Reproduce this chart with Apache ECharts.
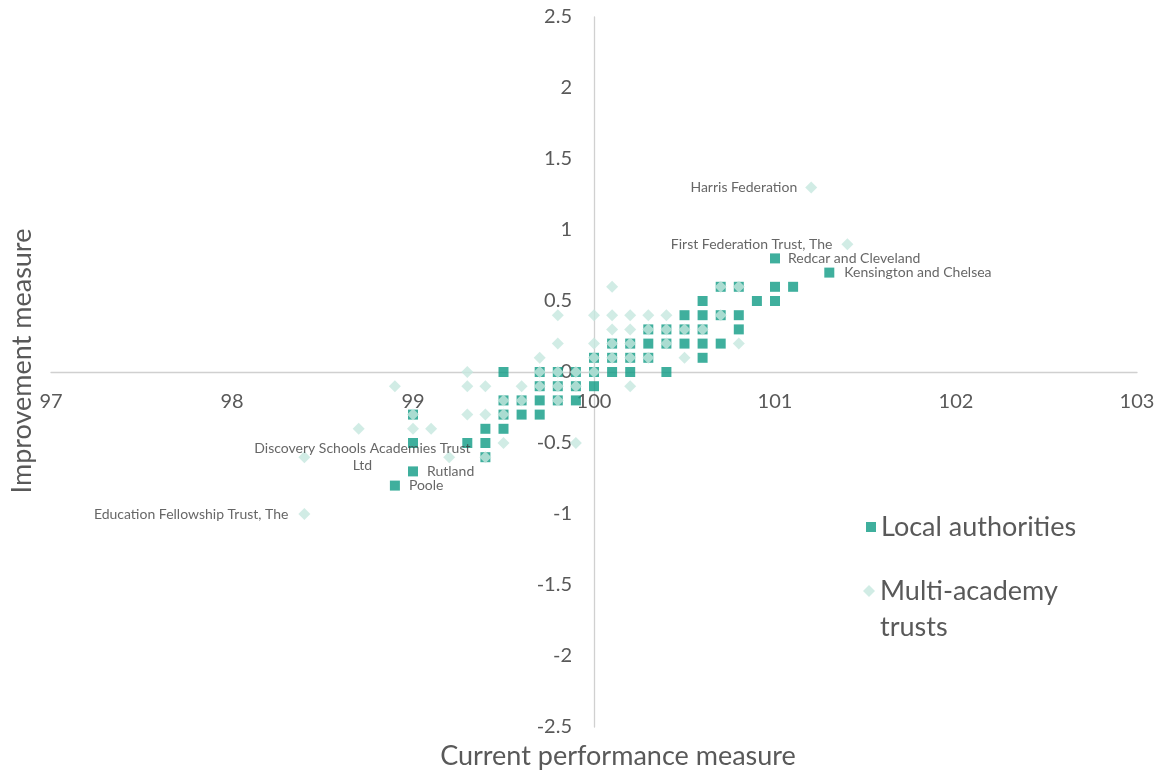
<!DOCTYPE html>
<html>
<head>
<meta charset="utf-8">
<script src="https://cdn.jsdelivr.net/npm/echarts@6/dist/echarts.min.js"></script>
<style>
html,body{margin:0;padding:0;background:#fff;}
#chart{width:1161px;height:774px;}
</style>
</head>
<body>
<div id="chart"></div>
<script>
// ---- data ----
const seriesNames = ['Local authorities', 'Multi-academy trusts'];
const xTitle = 'Current performance measure';
const yTitle = 'Improvement measure';

// Local authorities: [current performance, improvement]
const laPoints = [
  [100.7,0.6],[100.8,0.6],[101.0,0.6],[101.1,0.6],
  [100.6,0.5],[100.9,0.5],[101.0,0.5],
  [100.5,0.4],[100.6,0.4],[100.7,0.4],[100.8,0.4],
  [100.3,0.3],[100.4,0.3],[100.5,0.3],[100.6,0.3],[100.8,0.3],
  [100.1,0.2],[100.2,0.2],[100.3,0.2],[100.4,0.2],[100.5,0.2],[100.6,0.2],[100.7,0.2],
  [100.0,0.1],[100.1,0.1],[100.2,0.1],[100.3,0.1],[100.6,0.1],
  [99.5,0],[99.7,0],[99.8,0],[99.9,0],[100.0,0],[100.1,0],[100.2,0],[100.4,0],
  [99.7,-0.1],[99.8,-0.1],[99.9,-0.1],[100.0,-0.1],
  [99.5,-0.2],[99.6,-0.2],[99.7,-0.2],[99.8,-0.2],[99.9,-0.2],
  [99.0,-0.3],[99.5,-0.3],[99.6,-0.3],[99.7,-0.3],
  [99.4,-0.4],[99.5,-0.4],
  [99.0,-0.5],[99.3,-0.5],[99.4,-0.5],
  [99.4,-0.6]
];
const laNamed = [
  ['Redcar and Cleveland', 101.0, 0.8],
  ['Kensington and Chelsea', 101.3, 0.7],
  ['Rutland', 99.0, -0.7],
  ['Poole', 98.9, -0.8]
];

// Multi-academy trusts
const matPoints = [
  [100.1,0.6],[100.7,0.6],[100.8,0.6],
  [99.8,0.4],[100.0,0.4],[100.1,0.4],[100.2,0.4],[100.3,0.4],[100.4,0.4],[100.7,0.4],
  [100.1,0.3],[100.2,0.3],[100.3,0.3],[100.4,0.3],[100.5,0.3],[100.6,0.3],
  [99.8,0.2],[100.0,0.2],[100.1,0.2],[100.2,0.2],[100.4,0.2],[100.8,0.2],
  [99.7,0.1],[100.0,0.1],[100.1,0.1],[100.2,0.1],[100.3,0.1],[100.5,0.1],
  [99.3,0],[99.7,0],[99.8,0],[99.9,0],[100.0,0],
  [98.9,-0.1],[99.3,-0.1],[99.4,-0.1],[99.6,-0.1],[99.7,-0.1],[99.8,-0.1],[99.9,-0.1],[100.2,-0.1],
  [99.5,-0.2],[99.6,-0.2],[99.8,-0.2],
  [99.0,-0.3],[99.3,-0.3],[99.4,-0.3],[99.5,-0.3],
  [98.7,-0.4],[99.0,-0.4],[99.1,-0.4],
  [99.5,-0.5],[99.9,-0.5],
  [99.2,-0.6],[99.4,-0.6]
];
const matNamed = [
  ['Harris Federation', 101.2, 1.3],
  ['First Federation Trust, The', 101.4, 0.9],
  ['Discovery Schools Academies Trust Ltd', 98.4, -0.6],
  ['Education Fellowship Trust, The', 98.4, -1.0]
];

const xTicks = {min: 97, max: 103, step: 1};
const yTicks = {min: -2.5, max: 2.5, step: 0.5};

// ---- styling / layout ----
const FONT = 'Lato, "Open Sans", sans-serif';
const LA_COLOR = '#0F9B85';
const MAT_COLOR = '#C5E7DF';
const AXIS_COLOR = '#D0D0D0';
const TEXT_COLOR = '#595959';
const gridLeft = 51, gridRight = 24, gridTop = 17, gridBottom = 47;
const gridW = 1161 - gridLeft - gridRight;
const gridH = 774 - gridTop - gridBottom;

const labelStyles = {
  'Redcar and Cleveland': {position: 'right', distance: 8},
  'Kensington and Chelsea': {position: 'right', distance: 10},
  'Rutland': {position: 'right', distance: 9},
  'Poole': {position: 'right', distance: 9},
  'Harris Federation': {position: 'left', distance: 8},
  'First Federation Trust, The': {position: 'left', distance: 9},
  'Education Fellowship Trust, The': {position: 'left', distance: 10},
  'Discovery Schools Academies Trust Ltd': {position: 'inside', offset: [58, 0], align: 'center', lineHeight: 17,
      formatter: (p) => p.name.replace(' Ltd', '\nLtd')}
};

function buildData(points, named) {
  const arr = points.map(p => ({value: p}));
  named.forEach(([name, x, y]) => {
    const ls = labelStyles[name] || {};
    arr.push({
      name: name,
      value: [x, y],
      label: Object.assign({
        show: true,
        formatter: '{b}',
        fontFamily: FONT,
        fontSize: 14,
        color: '#404040'
      }, ls)
    });
  });
  return arr;
}

const chart = echarts.init(document.getElementById('chart'), null, {renderer: 'canvas'});
const axisLabelBase = {color: TEXT_COLOR, fontFamily: FONT, fontSize: 20};

chart.setOption({
  backgroundColor: '#ffffff',
  animation: false,
  grid: {left: gridLeft, right: gridRight, top: gridTop, bottom: gridBottom, containLabel: false},
  xAxis: {
    type: 'value', min: xTicks.min, max: xTicks.max, interval: xTicks.step,
    position: 'bottom',
    offset: -gridH * (0 - yTicks.min) / (yTicks.max - yTicks.min),
    axisLine: {show: true, onZero: false, lineStyle: {color: AXIS_COLOR, width: 1.3}},
    axisTick: {show: false},
    splitLine: {show: false},
    axisLabel: Object.assign({margin: 20, showMinLabel: true, showMaxLabel: true}, axisLabelBase)
  },
  yAxis: {
    type: 'value', min: yTicks.min, max: yTicks.max, interval: yTicks.step,
    position: 'left',
    offset: -gridW * (100 - xTicks.min) / (xTicks.max - xTicks.min),
    axisLine: {show: true, onZero: false, lineStyle: {color: AXIS_COLOR, width: 1.3}},
    axisTick: {show: false},
    splitLine: {show: false},
    axisLabel: Object.assign({margin: 22, showMinLabel: true, showMaxLabel: true}, axisLabelBase)
  },
  legend: [
    {
      data: [{name: seriesNames[0], icon: 'rect'}],
      left: 861, top: 504, orient: 'vertical',
      itemWidth: 10, itemHeight: 10,
      textStyle: {fontFamily: FONT, fontSize: 27, color: TEXT_COLOR, lineHeight: 36}
    },
    {
      data: [{name: seriesNames[1], icon: 'diamond'}],
      left: 858, top: 532, orient: 'vertical',
      itemWidth: 12, itemHeight: 12,
      formatter: (n) => '\n' + n.replace(' ', '\n'),
      textStyle: {fontFamily: FONT, fontSize: 27, color: TEXT_COLOR, lineHeight: 36}
    }
  ],
  graphic: [
    {type: 'text', x: 618, y: 756,
      style: {text: xTitle, font: '27px ' + FONT, fill: TEXT_COLOR, align: 'center', verticalAlign: 'middle'}},
    {type: 'text', x: 22, y: 361, rotation: Math.PI / 2,
      style: {text: yTitle, font: '27px ' + FONT, fill: TEXT_COLOR, align: 'center', verticalAlign: 'middle'}}
  ],
  series: [
    {
      name: seriesNames[0], type: 'scatter', symbol: 'rect', symbolSize: 10,
      itemStyle: {color: LA_COLOR},
      data: buildData(laPoints, laNamed), z: 3
    },
    {
      name: seriesNames[1], type: 'scatter', symbol: 'diamond', symbolSize: 12,
      itemStyle: {color: MAT_COLOR},
      data: buildData(matPoints, matNamed), z: 4
    }
  ]
});
</script>
</body>
</html>
